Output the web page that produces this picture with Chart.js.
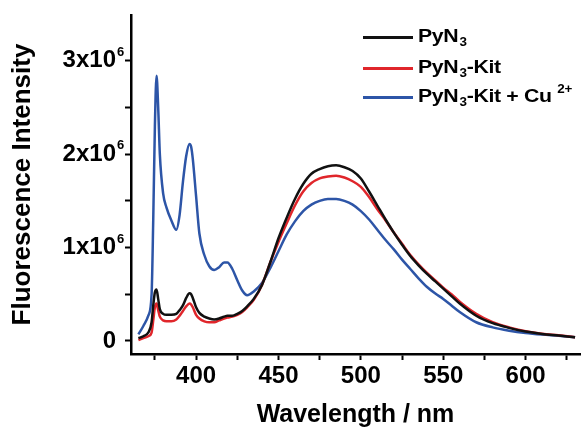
<!DOCTYPE html>
<html>
<head>
<meta charset="utf-8">
<script src="https://cdn.jsdelivr.net/npm/chart.js@4.4.0/dist/chart.umd.min.js"></script>
<style>
	body { margin:0; background:#fff; }
	#contenedor { position:relative; width:582px; height:430px; }
	#leyenda { position:absolute; left:0; top:0; font-family:"Liberation Sans", Arial, sans-serif; font-weight:bold; font-size:19px; color:#000; }
	.fila { position:absolute; left:363px; white-space:nowrap; height:0; }
	.muestra { position:absolute; left:0; top:-1px; width:50px; height:2.5px; }
	.texto { position:absolute; left:55px; top:-11px; line-height:20px; transform:scaleX(1.12); transform-origin:left center; letter-spacing:-0.3px; }
	.texto sub { font-size:12px; position:relative; top:4px; vertical-align:baseline; margin-left:1px; }
	.texto sup { font-size:12px; position:relative; top:-9px; vertical-align:baseline; }
</style>
</head>
<body>
<div id="contenedor">
	<canvas id="grafico" width="582" height="430"></canvas>
	<div id="leyenda"></div>
</div>
<script>
//	Datos (intensidad en unidades de 1x10^6)
var Longitudes=[365,368,371,373,374,375,376,377,378,380,382,385,388,390,392,394,396,397,398,400,
	402,405,408,411,414,417,419,422,425,428,431,435,440,445,450,455,460,465,470,475,
	480,485,490,495,500,505,510,515,520,525,530,535,540,545,550,555,560,570,580,590,
	600,610,620,630];

var PyN3=[0.03,0.05,0.09,0.20,0.38,0.52,0.55,0.45,0.34,0.29,0.28,0.28,0.29,0.33,0.38,0.46,0.51,0.50,0.46,0.36,
	0.30,0.26,0.24,0.23,0.24,0.26,0.27,0.27,0.29,0.32,0.37,0.45,0.60,0.84,1.10,1.32,1.52,1.68,1.79,1.84,
	1.87,1.88,1.86,1.82,1.74,1.60,1.45,1.30,1.16,1.03,0.91,0.81,0.72,0.64,0.56,0.48,0.40,0.27,0.19,0.14,
	0.10,0.075,0.058,0.04];

var PyN3Kit=[0.01,0.03,0.05,0.09,0.22,0.36,0.40,0.33,0.26,0.22,0.21,0.21,0.23,0.27,0.32,0.37,0.40,0.39,0.36,0.28,
	0.24,0.21,0.20,0.20,0.22,0.24,0.25,0.26,0.28,0.31,0.36,0.44,0.60,0.84,1.06,1.26,1.45,1.60,1.69,1.74,
	1.76,1.77,1.75,1.71,1.65,1.54,1.41,1.29,1.16,1.04,0.92,0.82,0.73,0.65,0.57,0.50,0.42,0.29,0.20,0.145,
	0.105,0.078,0.06,0.04];

var PyN3KitCu=[0.07,0.16,0.27,0.50,1.30,2.30,2.84,2.50,2.00,1.58,1.43,1.29,1.19,1.35,1.70,1.98,2.11,2.08,1.95,1.55,
	1.15,0.92,0.80,0.76,0.79,0.84,0.84,0.77,0.65,0.54,0.49,0.53,0.62,0.78,0.96,1.14,1.28,1.39,1.46,1.50,
	1.52,1.52,1.50,1.46,1.39,1.30,1.19,1.08,0.98,0.87,0.77,0.67,0.58,0.51,0.45,0.38,0.31,0.20,0.145,0.11,
	0.085,0.068,0.055,0.04];

//	Marcas de los ejes
var MarcasX=[375,400,425,450,475,500,525,550,575,600,625];
var EtiquetasX=['','400','','450','','500','','550','','600',''];
var MarcasY=[0,0.5,1,1.5,2,2.5,3];
var EtiquetasY=['0','','1x10','','2x10','','3x10'];
var ExponentesY=['','','6','','6','','6'];

var Etiquetas=['PyN<sub>3</sub>','PyN<sub>3</sub>-Kit','PyN<sub>3</sub>-Kit + Cu <sup>2+</sup>'];
var Colores=['#111111','#e0262b','#2d55a7'];
var PosLeyenda=[37,68,97];

var myChart;

function Puntos(Valores)
{
	var res=[];
	for (var i=0;i<Longitudes.length;++i)
		res.push({x:Longitudes[i], y:Valores[i]*1e6});
	return res;
}

function PresentaLeyenda()
{
	var html='';
	for (var i=0;i<Etiquetas.length;++i)
	{
		html+='<div class="fila" style="top:'+PosLeyenda[i]+'px"><div class="muestra" style="background:'+Colores[i]+'"></div>'
			+'<div class="texto">'+Etiquetas[i]+'</div></div>';
	}
	document.getElementById('leyenda').innerHTML=html;
}

//	Dibuja el exponente (el "6" de 10^6) junto a cada etiqueta del eje Y
var pluginExponentes={
	id: 'exponentes',
	afterDraw: function(chart)
	{
		var esc=chart.scales.y;
		var ctx=chart.ctx;
		var xTexto=esc.right-6-9+1;
		ctx.save();
		ctx.font='bold 13px "Liberation Sans", Arial, sans-serif';
		ctx.fillStyle='#000';
		ctx.textAlign='left';
		ctx.textBaseline='alphabetic';
		for (var i=0;i<MarcasY.length;++i)
		{
			if (ExponentesY[i]=='') continue;
			ctx.fillText(ExponentesY[i], xTexto, esc.getPixelForValue(MarcasY[i]*1e6)-5);
		}
		ctx.restore();
	}
};

function PresentaGrafico()
{
	var Series=[PyN3,PyN3Kit,PyN3KitCu];
	var Datasets=[];
	for (var i=0;i<Series.length;++i)
	{
		Datasets.push({
			label: Etiquetas[i],
			data: Puntos(Series[i]),
			borderColor: Colores[i],
			backgroundColor: Colores[i],
			borderWidth: 2.5,
			pointRadius: 0,
			cubicInterpolationMode: 'monotone',
			fill: false
		});
	}

	Chart.defaults.font.family='"Liberation Sans", Arial, sans-serif';
	Chart.defaults.color='#000';

	var ctx=document.getElementById('grafico').getContext('2d');
	myChart=new Chart(ctx, {
		type: 'line',
		data: { datasets: Datasets },
		plugins: [pluginExponentes],
		options: {
			responsive: false,
			animation: false,
			layout: { padding: { top:15, right:2, left:0, bottom:0 } },
			plugins: { legend: { display:false }, tooltip: { enabled:false } },
			scales: {
				x: {
					type: 'linear',
					min: 360.5,
					max: 633,
					afterFit: function(scale) { scale.height=76; },
					afterBuildTicks: function(scale) { scale.ticks=MarcasX.map(function(v){ return {value:v}; }); },
					border: { display:true, color:'#000', width:2.5 },
					grid: { drawOnChartArea:false, drawTicks:true, tickLength:6, tickColor:'#000', tickWidth:2 },
					ticks: {
						autoSkip: false,
						maxRotation: 0,
						padding: 2,
						font: { size:24, weight:'bold' },
						callback: function(v, i) { return EtiquetasX[i]; }
					},
					title: { display:true, text:'Wavelength / nm', font:{ size:25, weight:'bold', lineHeight:1.2 }, padding:{ top:0, bottom:0 } }
				},
				y: {
					min: -0.14e6,
					max: 3.49e6,
					afterFit: function(scale) { scale.width=131; },
					afterBuildTicks: function(scale) { scale.ticks=MarcasY.map(function(v){ return {value:v*1e6}; }); },
					border: { display:true, color:'#000', width:2.5 },
					grid: { drawOnChartArea:false, drawTicks:true, tickLength:6, tickColor:'#000', tickWidth:2 },
					ticks: {
						autoSkip: false,
						padding: 9,
						font: { size:24, weight:'bold', lineHeight:0.5 },
						callback: function(v, i) { return EtiquetasY[i]; }
					},
					title: { display:true, text:'Fluorescence Intensity', font:{ size:26, weight:'bold', lineHeight:1.2 }, padding:{ top:7, bottom:0 } }
				}
			}
		}
	});
}

PresentaLeyenda();
PresentaGrafico();
</script>
</body>
</html>
